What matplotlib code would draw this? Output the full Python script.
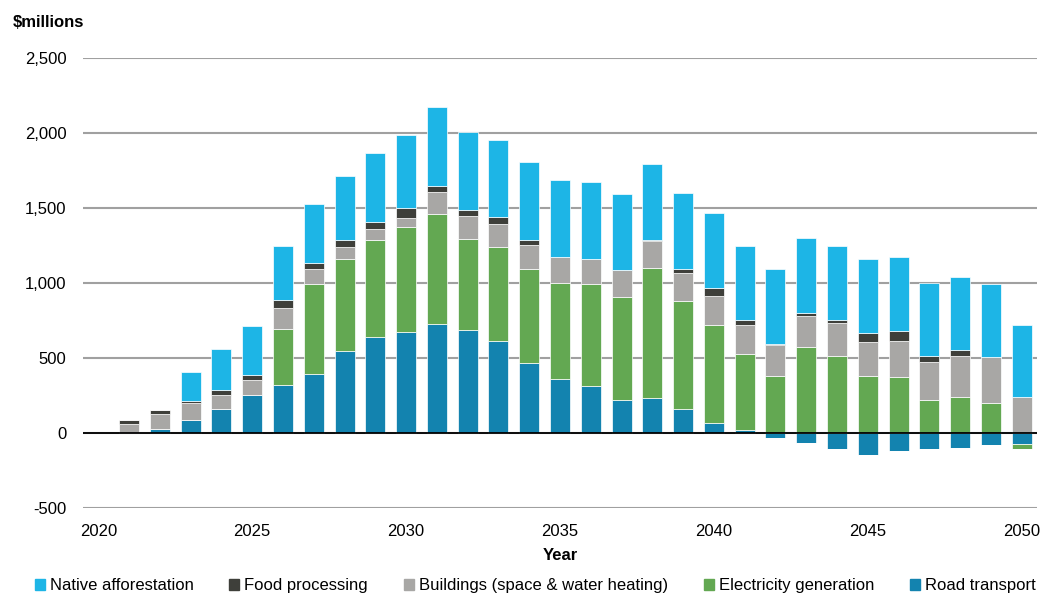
import numpy as np
import matplotlib.pyplot as plt
from matplotlib.patches import Patch

plt.rcParams['font.family'] = ['Liberation Sans', 'DejaVu Sans']

years = np.arange(2021, 2051)

road = [0, 27, 89, 158, 251, 320, 393, 544, 640, 673,
        727, 690, 616, 467, 360, 316, 220, 231, 158, 65,
        20, -33, -69, -109, -147, -118, -107, -102, -84, -76]
electricity = [0, 0, 0, 0, 0, 371, 598, 616, 651, 703,
               735, 605, 628, 628, 641, 676, 685, 870, 721, 654,
               507, 380, 573, 516, 382, 373, 220, 242, 200, -31]
buildings = [60, 100, 111, 98, 102, 145, 102, 82, 69, 60,
             149, 153, 151, 162, 171, 172, 181, 178, 189, 198,
             191, 204, 207, 217, 227, 238, 251, 274, 309, 238]
food = [25, 28, 16, 33, 31, 48, 38, 47, 49, 66,
        37, 43, 44, 31, 0, 0, 0, 7, 24, 49,
        33, 12, 20, 20, 58, 69, 40, 35, 0, 0]
native = [0, 0, 191, 273, 332, 363, 396, 426, 462, 489,
          526, 520, 519, 518, 514, 511, 509, 512, 508, 505,
          500, 500, 498, 498, 495, 491, 489, 487, 487, 484]

series = [
    ("Road transport", road, "#1383AF"),
    ("Electricity generation", electricity, "#63A852"),
    ("Buildings (space & water heating)", buildings, "#A8A7A5"),
    ("Food processing", food, "#3E3F3A"),
    ("Native afforestation", native, "#1DB5E6"),
]

fig = plt.figure(figsize=(10.41, 5.96), dpi=100)
ax = fig.add_axes([0.0797, 0.148, 0.9165, 0.754])

# positives stack upward from zero, negatives stack downward
pos_base = np.zeros(len(years))
neg_base = np.zeros(len(years))
for name, vals, col in series:
    v = np.array(vals, dtype=float)
    pos = np.where(v > 0, v, 0)
    neg = np.where(v < 0, v, 0)
    ax.bar(years, pos, bottom=pos_base, width=0.65, color=col,
           edgecolor="white", linewidth=0.5, zorder=2)
    ax.bar(years, neg, bottom=neg_base, width=0.65, color=col,
           edgecolor="white", linewidth=0.5, zorder=2)
    pos_base += pos
    neg_base += neg

ax.set_xlim(2019.5, 2050.5)
ax.set_ylim(-500, 2500)
ax.set_yticks(np.arange(-500, 2501, 500))
ax.set_yticklabels([f"{t:,}" for t in range(-500, 2501, 500)])
ax.set_xticks(np.arange(2020, 2051, 5))
ax.yaxis.grid(True, color="#A0A0A0", linewidth=1.5, zorder=0)
ax.set_axisbelow(True)
ax.axhline(0, color="black", linewidth=1.3, zorder=3)
for s in ax.spines.values():
    s.set_visible(False)
ax.tick_params(length=0, labelsize=12)
ax.tick_params(axis="x", pad=12)
ax.tick_params(axis="y", pad=12)

ax.set_xlabel("Year", fontsize=12, fontweight="bold", labelpad=6)
fig.text(0.012, 0.962, "$millions", fontsize=12, fontweight="bold", va="center")

handles = [Patch(color=c, label=n) for n, _, c in reversed(series)]
fig.legend(handles=handles, loc="center", bbox_to_anchor=(0.514, 0.017),
           ncol=5, frameon=False, fontsize=12, handlelength=0.6,
           handleheight=0.6, handletextpad=0.3, columnspacing=2.15)

fig.savefig("out.png", dpi=100)
